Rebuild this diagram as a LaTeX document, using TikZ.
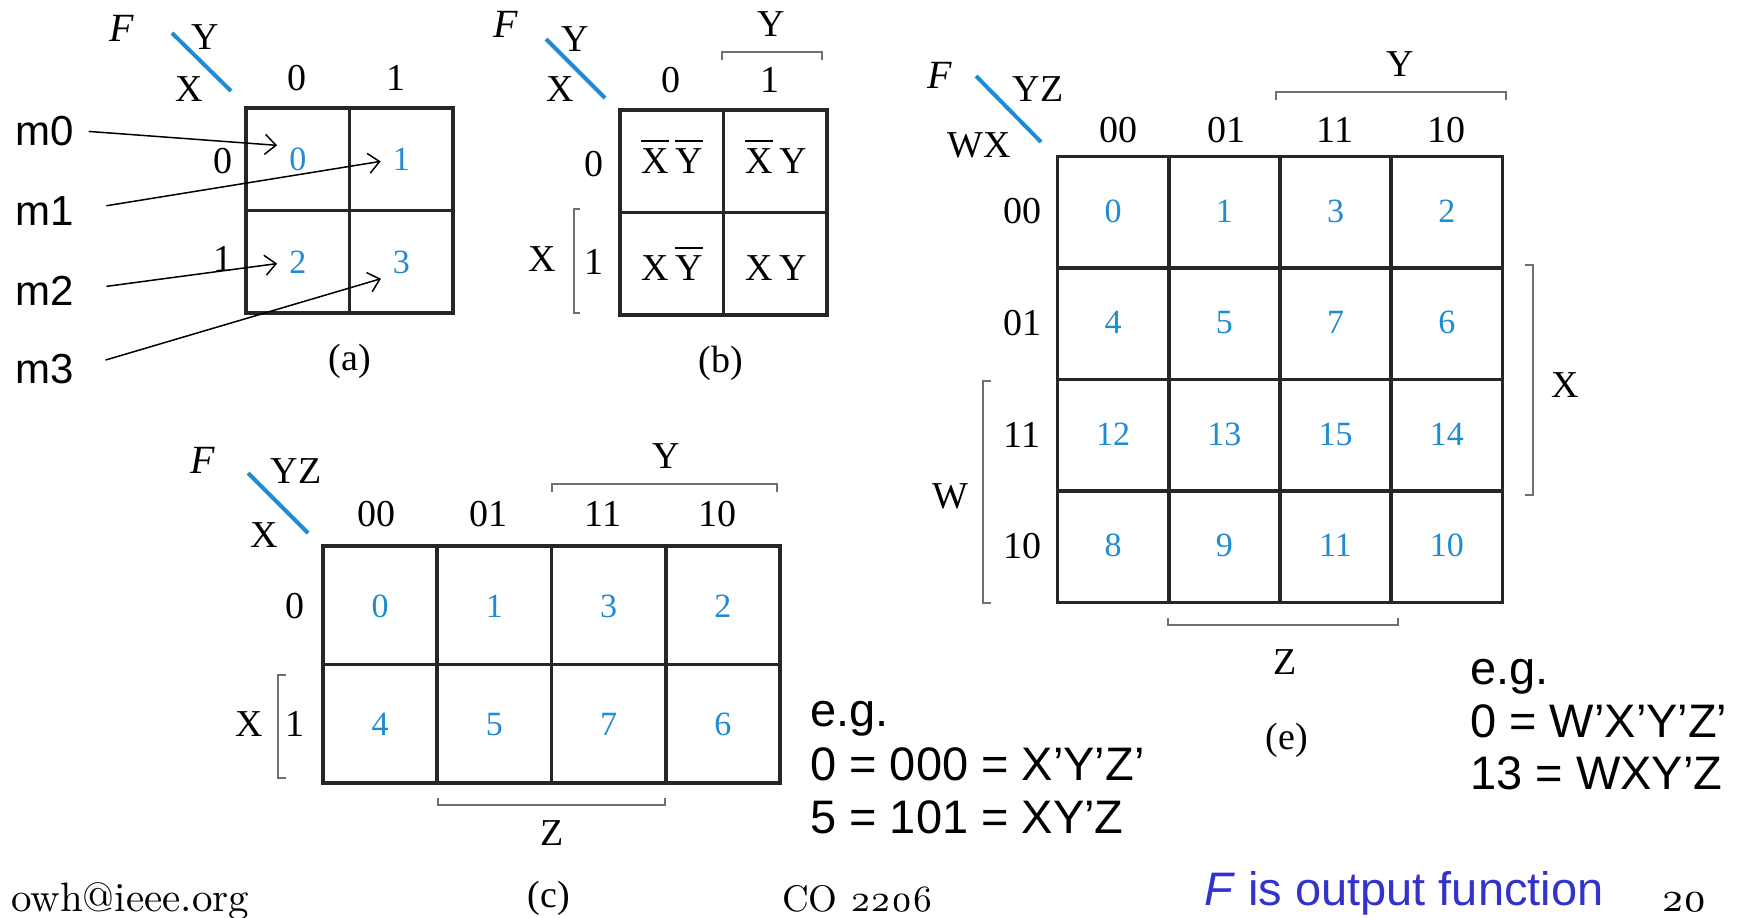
\documentclass[tikz,border=0pt]{standalone}
\usepackage{fontspec}
\setmainfont{Liberation Serif}
\newfontfamily\slidefont{Liberation Sans}
\newfontfamily\footfont{lmroman10-regular.otf}[Numbers=OldStyle]
\usetikzlibrary{arrows.meta}
\definecolor{MapBlue}{HTML}{1E8BD2}
\definecolor{SlideBlue}{HTML}{3333CC}
\definecolor{Black90}{HTML}{262626}
\definecolor{Gray60}{HTML}{707070}
\newcommand{\cmpl}[1]{\vbox{\hrule height 2pt\kern 6pt\hbox{#1}}}
\tikzset{
  kgrid/.style={draw=Black90, line width=3.8pt, line cap=rect},
  kbrack/.style={draw=Gray60, line width=2pt},
  kslash/.style={draw=MapBlue, line width=4pt},
  knum/.style={text=MapBlue, inner sep=2pt, font=\fontsize{34}{34}\selectfont},
  klab/.style={inner sep=0pt, font=\fontsize{38}{38}\selectfont},
  kterm/.style={inner sep=0pt, anchor=base, font=\fontsize{38}{38}\selectfont},
  kfun/.style={inner sep=0pt, font=\fontsize{40}{40}\selectfont\itshape},
  slidetxt/.style={inner sep=0pt, anchor=base west, font=\slidefont\fontsize{47}{53}\selectfont},
  mterm/.style={inner sep=3pt, anchor=base west, font=\slidefont\fontsize{42}{42}\selectfont},
  foot/.style={inner sep=0pt, anchor=base west, font=\footfont\fontsize{#1}{#1}\selectfont},
  foot/.default=41,
}

\begin{document}
\begin{tikzpicture}[
    x=1pt, y=-1pt,
    arr/.style={-{Straight Barb[length=11pt, width=20pt]}, line width=1.5pt, shorten >=10pt}
  ]
  \useasboundingbox (0,0) rectangle (1740,918);

  % (a) two-variable map
  \node[kfun] (fa) at (122,28) {F};
  \draw[kslash] (172,33) -- (231,91);
  \node[klab] (ya) at (205,37) {Y};
  \node[klab] (xa) at (189,89) {X};
  \node[klab] (acol0) at (297,78) {0};
  \node[klab] (acol1) at (396,78) {1};
  \node[klab] (arow0) at (223,161) {0};
  \node[klab] (arow1) at (223,259) {1};
  \draw[kgrid] (246,108) rectangle (453,313);
  \draw[kgrid] (349.5,108) -- (349.5,313);
  \draw[kgrid] (246,210.5) -- (453,210.5);
  \foreach \v/\x/\y in {0/297.75/159.75, 1/401.25/159.75, 2/297.75/262.25, 3/401.25/262.25}
    \node[knum] (a\v) at (\x,\y) {\v};
  \node[klab] (capa) at (350,361) {(a)};

  \node[mterm] (m0) at (12,145) {m0};
  \node[mterm] (m1) at (12,225) {m1};
  \node[mterm] (m2) at (12,305) {m2};
  \node[mterm] (m3) at (12,383) {m3};
  \draw[arr, shorten <=12pt] (m0.east) -- (a0.north west);
  \draw[arr, shorten <=30pt] (m1.east) -- (a1.west);
  \draw[arr, shorten <=30pt] (m2.east) -- (a2.west);
  \draw[arr, shorten <=30pt] (m3.east) -- (a3.south west);

  % (b) minterms
  \node[kfun] (fb) at (506,24) {F};
  \draw[kslash] (546,39) -- (605,98);
  \node[klab] (yb) at (575,39) {Y};
  \node[klab] (xb) at (560,89) {X};
  \node[klab] (bcol0) at (671,80) {0};
  \node[klab] (bcol1) at (770,80) {1};
  \draw[kbrack] (722,60) -- (722,52) -- (822,52) -- (822,60);
  \node[klab] (ytopb) at (771,24) {Y};
  \node[klab] (brow0) at (594,164) {0};
  \node[klab] (brow1) at (594,262) {1};
  \draw[kbrack] (580,209) -- (574,209) -- (574,313) -- (580,313);
  \node[klab] (xsideb) at (542,259) {X};
  \draw[kgrid] (620,110) rectangle (827,315);
  \draw[kgrid] (723.5,110) -- (723.5,315);
  \draw[kgrid] (620,212.5) -- (827,212.5);
  \node[kterm] (b0) at (672,173) {\cmpl{X}\,\cmpl{Y}};
  \node[kterm] (b1) at (776,173) {\cmpl{X}\,Y};
  \node[kterm] (b2) at (672,280) {X\,\cmpl{Y}};
  \node[kterm] (b3) at (776,280) {X\,Y};
  \node[klab] (capb) at (721,363) {(b)};

  % (c) three-variable map
  \node[kfun] (fc) at (203,460) {F};
  \draw[kslash] (248,473) -- (308,533);
  \node[klab] (yzc) at (296,471) {YZ};
  \node[klab] (xc) at (264,535) {X};
  \foreach \t/\x [count=\c from 0] in {00/376, 01/488, 11/603, 10/717}
    \node[klab] (ccol\c) at (\x,514) {\t};
  \draw[kbrack] (552,492) -- (552,484) -- (777,484) -- (777,492);
  \node[klab] (ytopc) at (666,456) {Y};
  \node[klab] (crow0) at (295,606) {0};
  \node[klab] (crow1) at (295,724) {1};
  \draw[kbrack] (286,675) -- (278,675) -- (278,778) -- (286,778);
  \node[klab] (xsidec) at (249,724) {X};
  \draw[kgrid] (323,546) rectangle (780,783);
  \foreach \i in {1,2,3}
    \draw[kgrid] (323+114.25*\i,546) -- (323+114.25*\i,783);
  \draw[kgrid] (323,664.5) -- (780,664.5);
  \foreach \rowv [count=\r from 0] in {{0,1,3,2},{4,5,7,6}}
    \foreach \v [count=\c from 0] in \rowv
      \node[knum] (c\v) at (380+114.25*\c,606+118.5*\r) {\v};
  \draw[kbrack] (438,798) -- (438,805) -- (665,805) -- (665,798);
  \node[klab] (zc) at (552,833) {Z};
  \node[klab] (capc) at (549,898) {(c)};

  \node[slidetxt] (egc) at (810,726) {e.g.};
  \node[slidetxt] (egc0) at (810,780) {0 = 000 = X’Y’Z’};
  \node[slidetxt] (egc5) at (810,833) {5 = 101 = XY’Z};

  % (e) four-variable map
  \node[kfun] (fe) at (940,75) {F};
  \draw[kslash] (976,76) -- (1041,142);
  \node[klab] (yze) at (1038,89) {YZ};
  \node[klab] (wxe) at (979,145) {WX};
  \foreach \t/\x [count=\c from 0] in {00/1118, 01/1226, 11/1335, 10/1446}
    \node[klab] (ecol\c) at (\x,130) {\t};
  \draw[kbrack] (1276,100) -- (1276,92) -- (1506,92) -- (1506,100);
  \node[klab] (ytope) at (1400,64) {Y};
  \foreach \t [count=\r from 0] in {00,01,11,10}
    \node[klab] (erow\r) at (1022,211+111.75*\r) {\t};
  \draw[kbrack] (991,381) -- (983,381) -- (983,603) -- (991,603);
  \node[klab] (wsidee) at (950,496) {W};
  \draw[kbrack] (1525,265) -- (1533,265) -- (1533,495) -- (1525,495);
  \node[klab] (xsidee) at (1565,385) {X};
  \foreach \i in {0,...,4} {
    \draw[kgrid] (1057.5+111.25*\i,156.5) -- (1057.5+111.25*\i,602.5);
    \draw[kgrid] (1057.5,156.5+111.5*\i) -- (1502.5,156.5+111.5*\i);
  }
  \foreach \rowv [count=\r from 0] in {{0,1,3,2},{4,5,7,6},{12,13,15,14},{8,9,11,10}}
    \foreach \v [count=\c from 0] in \rowv
      \node[knum] (e\v) at (1113+111.25*\c,211+111.5*\r) {\v};
  \draw[kbrack] (1168,618) -- (1168,625) -- (1398,625) -- (1398,618);
  \node[klab] (ze) at (1285,662) {Z};
  \node[klab] (cape) at (1287,740) {(e)};

  \node[slidetxt] (ege) at (1470,684) {e.g.};
  \node[slidetxt] (ege0) at (1470,737) {0 = W’X’Y’Z’};
  \node[slidetxt] (ege13) at (1470,789) {13 = WXY’Z};

  % slide footer
  \node[foot] (mail) at (11,911) {owh@ieee.org};
  \node[foot=37] (course) at (782,911) {CO 2206};
  \node[slidetxt, text=SlideBlue, font=\slidefont\fontsize{47}{47}\selectfont] (note) at (1204,905) {\textit{F} is output function};
  \node[foot] (page) at (1661,911) {20};
\end{tikzpicture}
\end{document}
